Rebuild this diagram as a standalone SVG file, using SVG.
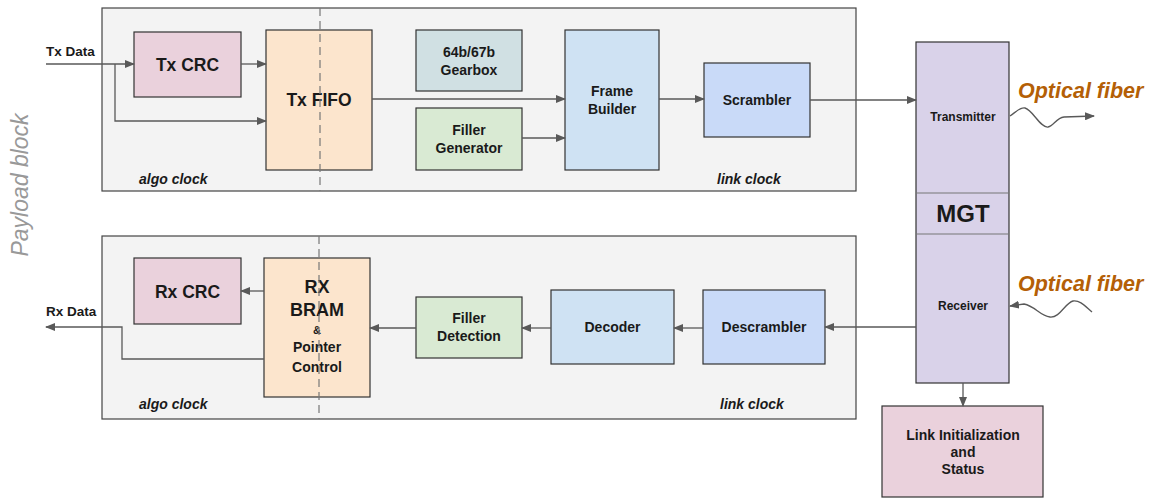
<svg xmlns="http://www.w3.org/2000/svg" width="1151" height="499" viewBox="0 0 1151 499">
<defs>
<marker id="ah" markerWidth="10" markerHeight="8" refX="9" refY="4" orient="auto" markerUnits="userSpaceOnUse">
<path d="M0,0 L10,4 L0,8 Z" fill="#595959"/>
</marker>
<style>
text{font-family:"Liberation Sans",Arial,sans-serif;font-weight:bold;fill:#1a1a1a;text-anchor:middle}
.cont{fill:#f3f3f3;stroke:#444;stroke-width:1.2}
.box{stroke:#333;stroke-width:1.2}
.pink{fill:#ead1dc}.orange{fill:#fce5cd}.teal{fill:#d0e0e3}.green{fill:#d9ead3}.lblue{fill:#cfe2f3}.blue{fill:#c9daf8}.purple{fill:#d9d2e9}
.dash{stroke:#777;stroke-width:1.2;stroke-dasharray:8,5;fill:none}
.c{stroke:#595959;stroke-width:1.3;fill:none}
.ca{stroke:#595959;stroke-width:1.3;fill:none;marker-end:url(#ah)}
.clk{font-style:italic;font-size:14px;text-anchor:start}
.fib{font-style:italic;font-size:21.5px;fill:#b45f06;text-anchor:start}
</style>
</defs>
<rect width="1151" height="499" fill="#fff"/>
<text x="0" y="0" transform="translate(28,185) rotate(-90)" style="font-weight:normal;font-style:italic;font-size:23px;fill:#999">Payload block</text>
<g id="tx-container">
<rect class="cont" x="102" y="8" width="754" height="183"/>
<text class="clk" x="139" y="184">algo clock</text>
<text class="clk" x="717" y="184">link clock</text>
</g>
<g id="rx-container">
<rect class="cont" x="102" y="236" width="754" height="183"/>
<text class="clk" x="139" y="409">algo clock</text>
<text class="clk" x="720" y="409">link clock</text>
</g>
<g id="tx-crc"><rect class="box pink" x="134" y="32" width="107" height="65"/><text x="187.5" y="71" font-size="17.5">Tx CRC</text></g>
<g id="tx-fifo"><rect class="box orange" x="266" y="30" width="106" height="140"/><text x="319" y="106" font-size="17.5">Tx FIFO</text></g>
<g id="gearbox"><rect class="box teal" x="416" y="30" width="106" height="61"/><text x="469" y="57" font-size="14">64b/67b</text><text x="469" y="75" font-size="14">Gearbox</text></g>
<g id="filler-gen"><rect class="box green" x="416" y="108" width="106" height="62"/><text x="469" y="135" font-size="14">Filler</text><text x="469" y="153" font-size="14">Generator</text></g>
<g id="frame-builder"><rect class="box lblue" x="565" y="30" width="94" height="140"/><text x="612" y="96" font-size="14">Frame</text><text x="612" y="114" font-size="14">Builder</text></g>
<g id="scrambler"><rect class="box blue" x="704" y="63" width="106" height="74"/><text x="757" y="105" font-size="14">Scrambler</text></g>
<g id="rx-crc"><rect class="box pink" x="134" y="258" width="107" height="66"/><text x="187.5" y="298" font-size="17.5">Rx CRC</text></g>
<g id="rx-bram"><rect class="box orange" x="264" y="258" width="106" height="139"/>
<text x="317" y="293" font-size="18">RX</text><text x="317" y="316" font-size="18">BRAM</text><text x="317" y="334" font-size="11">&amp;</text><text x="317" y="352" font-size="14">Pointer</text><text x="317" y="372" font-size="14">Control</text></g>
<g id="filler-det"><rect class="box green" x="416" y="297" width="106" height="61"/><text x="469" y="323" font-size="14">Filler</text><text x="469" y="341" font-size="14">Detection</text></g>
<g id="decoder"><rect class="box lblue" x="551" y="290" width="123" height="74"/><text x="612.5" y="332" font-size="14">Decoder</text></g>
<g id="descrambler"><rect class="box blue" x="703" y="290" width="122" height="74"/><text x="764" y="332" font-size="14">Descrambler</text></g>
<g id="mgt">
<rect class="box purple" x="916" y="42" width="93" height="341"/>
<line x1="916" y1="193" x2="1009" y2="193" stroke="#777" stroke-width="1.2"/>
<line x1="916" y1="234" x2="1009" y2="234" stroke="#777" stroke-width="1.2"/>
<text x="963" y="121" font-size="12">Transmitter</text>
<text x="963" y="222" font-size="24" fill="#000">MGT</text>
<text x="963" y="310" font-size="12">Receiver</text>
</g>
<g id="link-init"><rect class="box pink" x="882" y="406" width="161" height="91"/><text x="963" y="440" font-size="14">Link Initialization</text><text x="963" y="457" font-size="14">and</text><text x="963" y="474" font-size="14">Status</text></g>
<g id="labels">
<text x="46" y="56" font-size="13.5" style="text-anchor:start">Tx Data</text>
<text x="46" y="316" font-size="13.5" style="text-anchor:start">Rx Data</text>
<text class="fib" x="1018" y="98">Optical fiber</text>
<text class="fib" x="1018" y="291">Optical fiber</text>
</g>
<g id="dashes">
<line class="dash" x1="320" y1="8" x2="320" y2="191"/>
<line class="dash" x1="319" y1="236" x2="319" y2="419"/>
</g>
<g id="connectors">
<path class="ca" d="M46,64 H134"/>
<path class="ca" d="M115,64 V121 H266"/>
<path class="ca" d="M241,64 H266"/>
<path class="ca" d="M372,99 H565"/>
<path class="ca" d="M522,138 H565"/>
<path class="ca" d="M659,99 H704"/>
<path class="ca" d="M810,100 H916"/>
<path class="ca" d="M1010,116 C1016,112 1020,107 1025,108 C1033,110 1040,128 1048,127 C1054,126 1056,118 1064,117 L1094,116"/>
<path class="ca" d="M1092,312 C1085,306 1080,300 1073,301 C1065,303 1060,318 1050,317 C1040,316 1035,306 1024,304 L1010,306"/>
<path class="ca" d="M916,327 H825"/>
<path class="ca" d="M703,328 H674"/>
<path class="ca" d="M551,328 H522"/>
<path class="ca" d="M416,328 H370"/>
<path class="ca" d="M264,291 H241"/>
<path class="ca" d="M264,359 H122 V327 H46"/>
<path class="ca" d="M963,383 V406"/>
</g>
</svg>
